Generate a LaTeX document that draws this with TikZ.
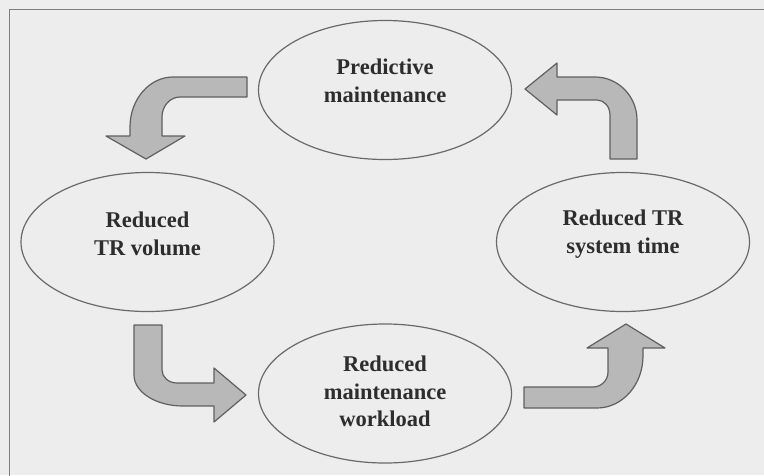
\documentclass[tikz,border=0pt]{standalone}
\usepackage{fontspec}
\setmainfont{Liberation Serif}
\usetikzlibrary{shapes.geometric}
\definecolor{paper}{RGB}{237,237,237}
\definecolor{linegray}{RGB}{105,105,105}
\definecolor{framegray}{RGB}{125,125,125}
\definecolor{arrowgray}{RGB}{184,184,184}
\definecolor{edgegray}{RGB}{95,95,95}
\definecolor{textgray}{RGB}{45,45,45}
\begin{document}
\begin{tikzpicture}[x=1pt,y=-1pt,
  oval/.style={ellipse, draw=linegray, line width=1.2pt,
    minimum width=253pt, minimum height=139pt, inner sep=0pt},
  caption/.style={align=center, inner sep=0pt, text=textgray,
    font=\fontsize{22.5}{27.5}\selectfont\bfseries},
  flow/.style={fill=arrowgray, draw=edgegray, line width=1.2pt, line join=round}]
\useasboundingbox[fill=paper] (0,0) rectangle (764,475);

% frame of the figure (only the top and left edges fall inside)
\coordinate (fbl) at (9.5,480);
\coordinate (ftl) at (9.5,9.5);
\coordinate (ftr) at (770,9.5);
\draw[framegray, line width=1.8pt] (fbl) -- (ftl) -- (ftr);

% the four stages of the cycle
\node[oval] (pm) at (385,90) {};
\node[oval] (vol) at (147.5,242) {};
\node[oval] (sys) at (623,242) {};
\node[oval] (work) at (385,393.5) {};

\node[caption, yshift=9pt] (pmtext) at (pm) {Predictive\\maintenance};
\node[caption, yshift=8pt] (voltext) at (vol) {Reduced\\TR volume};
\node[caption, yshift=8pt] (systext) at (sys) {Reduced TR\\system time};
\node[caption, yshift=2pt] (worktext) at (work) {Reduced\\maintenance\\workload};

% bent block arrows linking the stages
% predictive maintenance -> reduced TR volume
\draw[flow] (247,77) -- (173,77)
  .. controls (149.3,77) and (130,99.4) .. (130,127)
  -- (130,136) -- (106,136) -- (146,159) -- (185,136) -- (162,136) -- (162,117)
  .. controls (162,106) and (170,97) .. (180,97)
  -- (247,97) -- cycle;

% reduced TR system time -> predictive maintenance
\draw[flow] (610,159) -- (637,159) -- (637,120)
  .. controls (637,96.3) and (618.2,77) .. (595,77)
  -- (557,77) -- (557,63) -- (525,89) -- (557,115) -- (557,100) -- (597,100)
  .. controls (604.2,100) and (610,106.7) .. (610,115)
  -- cycle;

% reduced TR volume -> reduced maintenance workload
\draw[flow] (134,325) -- (162,325) -- (162,370)
  .. controls (162,377.2) and (168.7,383) .. (177,383)
  -- (214,383) -- (214,368) -- (246,395) -- (214,422) -- (214,406) -- (183,406)
  .. controls (155.9,406) and (134,392.1) .. (134,375)
  -- cycle;

% reduced maintenance workload -> reduced TR system time
\draw[flow] (524,387) -- (593,387)
  .. controls (601.3,387) and (608,380.3) .. (608,372)
  -- (608,348) -- (587,348) -- (626,324) -- (665,348) -- (643,348) -- (643,356)
  .. controls (643,384.7) and (622.4,408) .. (597,408)
  -- (524,408) -- cycle;
\end{tikzpicture}
\end{document}
